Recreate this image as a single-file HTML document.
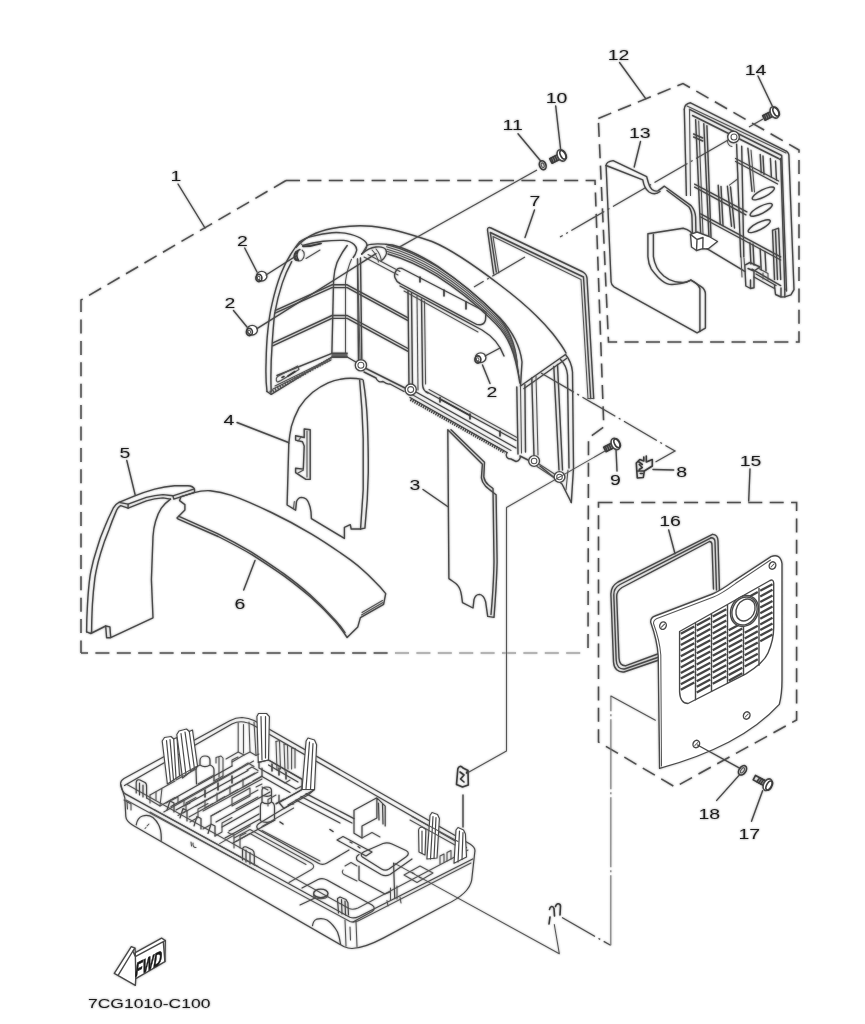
<!DOCTYPE html>
<html><head><meta charset="utf-8"><title>7CG1010-C100</title>
<style>
html,body{margin:0;padding:0;background:#fff;}
body{width:865px;height:1024px;overflow:hidden;font-family:"Liberation Sans",sans-serif;}
svg{display:block;}
.l{fill:none;stroke:#484848;stroke-width:1.4;stroke-linecap:round;stroke-linejoin:round;}
.f{fill:#fff;stroke:#484848;stroke-width:1.4;stroke-linecap:round;stroke-linejoin:round;}
.m{fill:none;stroke:#555;stroke-width:1.05;stroke-linecap:round;stroke-linejoin:round;}
.h{fill:none;stroke:#3c3c3c;stroke-width:1.6;stroke-linecap:round;stroke-linejoin:round;}
.d{fill:none;stroke:#505050;stroke-width:1.55;stroke-dasharray:14 7.4;}
.dl{fill:none;stroke:#b4b4b4;stroke-width:2;stroke-dasharray:14 7.4;}
.g{fill:none;stroke:#444;stroke-width:2.3;stroke-linecap:butt;}
.tl{fill:none;stroke:#4a4a4a;stroke-width:1.2;stroke-linecap:round;stroke-linejoin:round;}
.tm{fill:none;stroke:#555;stroke-width:1.05;stroke-linecap:round;stroke-linejoin:round;}
.tf{fill:#fff;stroke:#4a4a4a;stroke-width:1.2;stroke-linecap:round;stroke-linejoin:round;}
.th{fill:none;stroke:#444;stroke-width:1.5;stroke-linecap:round;}
.k{fill:none;stroke:#444;stroke-width:3;stroke-dasharray:1.3 1.1;}
.k2{fill:none;stroke:#555;stroke-width:3.2;stroke-dasharray:1.4 1.4;}
.c2{fill:none;stroke:#777;stroke-width:1.1;stroke-dasharray:70 3 2 3;}
.c{fill:none;stroke:#505050;stroke-width:1.2;stroke-dasharray:38 4 2 4;}
.t{font-family:"Liberation Sans",sans-serif;fill:#1c1c1c;stroke:none;}
</style></head><body>
<svg width="865" height="1024" viewBox="0 0 865 1024">
<defs><filter id="b" x="-2%" y="-2%" width="104%" height="104%"><feGaussianBlur in="SourceGraphic" stdDeviation="0.8" result="bl"/><feComponentTransfer in="bl" result="halo"><feFuncA type="linear" slope="0.55"/></feComponentTransfer><feMerge><feMergeNode in="halo"/><feMergeNode in="SourceGraphic"/></feMerge></filter></defs>
<rect width="865" height="1024" fill="#fff"/>
<g filter="url(#b)">
<path class="d" d="M286,180.5 L595,180.5 L603.8,427 L588.5,438 L588,651" />
<path class="d" d="M286,180.5 L81,300 L81,653" />
<path class="d" d="M81,653 L395,653" stroke-dashoffset="7"/>
<path class="dl" d="M395,653 L582,653" />
<path class="d" d="M598.3,118.5 L683,83.5 L799,150 L799,342 L608.5,342 Z" />
<path class="d" d="M598.5,502.5 L796.6,502.5 L796.6,720 L675,787 L598.5,742 Z" />
<text class="t" transform="translate(176,180.5) scale(1.3,1)" font-size="15" text-anchor="middle">1</text>
<text class="t" transform="translate(242.3,245.5) scale(1.3,1)" font-size="15" text-anchor="middle">2</text>
<text class="t" transform="translate(229.8,307.5) scale(1.3,1)" font-size="15" text-anchor="middle">2</text>
<text class="t" transform="translate(492,396.5) scale(1.3,1)" font-size="15" text-anchor="middle">2</text>
<text class="t" transform="translate(415,490) scale(1.3,1)" font-size="15" text-anchor="middle">3</text>
<text class="t" transform="translate(228.8,425) scale(1.3,1)" font-size="15" text-anchor="middle">4</text>
<text class="t" transform="translate(124.8,458) scale(1.3,1)" font-size="15" text-anchor="middle">5</text>
<text class="t" transform="translate(239.8,608.5) scale(1.3,1)" font-size="15" text-anchor="middle">6</text>
<text class="t" transform="translate(535,205.5) scale(1.3,1)" font-size="15" text-anchor="middle">7</text>
<text class="t" transform="translate(681.6,477) scale(1.3,1)" font-size="15" text-anchor="middle">8</text>
<text class="t" transform="translate(615.5,484.5) scale(1.3,1)" font-size="15" text-anchor="middle">9</text>
<text class="t" transform="translate(556.5,102.5) scale(1.3,1)" font-size="15" text-anchor="middle">10</text>
<text class="t" transform="translate(512.6,129.5) scale(1.3,1)" font-size="15" text-anchor="middle">11</text>
<text class="t" transform="translate(618.6,59.5) scale(1.3,1)" font-size="15" text-anchor="middle">12</text>
<text class="t" transform="translate(639.7,138) scale(1.3,1)" font-size="15" text-anchor="middle">13</text>
<text class="t" transform="translate(755.6,74.5) scale(1.3,1)" font-size="15" text-anchor="middle">14</text>
<text class="t" transform="translate(750.5,465.5) scale(1.3,1)" font-size="15" text-anchor="middle">15</text>
<text class="t" transform="translate(670,526) scale(1.3,1)" font-size="15" text-anchor="middle">16</text>
<text class="t" transform="translate(749.2,838.5) scale(1.3,1)" font-size="15" text-anchor="middle">17</text>
<text class="t" transform="translate(709.3,818.5) scale(1.3,1)" font-size="15" text-anchor="middle">18</text>
<text class="t" transform="translate(88,1008.3) scale(1.345,1)" font-size="13">7CG1010-C100</text>
<path class="l" d="M178,184L205,228"/>
<path class="l" d="M244.7,248L257,272"/>
<path class="l" d="M233.5,310.5L247,327"/>
<path class="l" d="M482.5,365L490,383.5"/>
<path class="l" d="M423,489.5L447.6,506.5"/>
<path class="l" d="M237,422.5L288.5,442.5"/>
<path class="l" d="M126.8,460.5L135.2,495"/>
<path class="l" d="M243.7,590L255,560.5"/>
<path class="l" d="M534.5,210L525,237.5"/>
<path class="l" d="M653,469.5L673.7,470"/>
<path class="l" d="M616,449L617,471"/>
<path class="l" d="M555.7,106L560.7,150"/>
<path class="l" d="M518,133.7L540.7,161"/>
<path class="l" d="M619.5,62.5L645.7,98.7"/>
<path class="l" d="M640.5,141.5L634.2,167"/>
<path class="l" d="M758,76L773,107.5"/>
<path class="l" d="M750,469L748.7,501"/>
<path class="l" d="M668.7,530L675,553.7"/>
<path class="l" d="M762.6,790.7L751.5,821.3"/>
<path class="l" d="M739,775.4L716.7,800.4"/>
<path class="l" d="M493.7,274 L487.5,230 Q487.5,226.5 491,228 L583,272 Q586.5,274 587,278 L593.7,398.5" />
<path class="l" d="M496.3,272 L490.3,232.5 L583.5,277 L590.7,398.5" />
<path class="m" d="M498.8,273 L493,236.5 L581,279.5 L588,398.5" />
<path class="m" d="M593.7,398.5 L588,398.5" />
<path class="l" d="M296,247.5 C304,238 316,231.5 331.9,228.5 C345,226 358,225 371.6,226.2 C392,228 412,234.5 432,241.5 C448,248 470,262 500,285 C520,300 540,318 553,334 C560,343 564,349 566,353" />
<path class="l" d="M366.9,245.5 C372,243 380,243.5 392.4,245 C410,249 426,259 437.5,266 C455,278 480,298 500,318 C512,331 520,345 522,362 L520.5,386" />
<path class="l" d="M520.5,386 L565.5,354.5" />
<path class="l" d="M524,388.5 L566.5,358.5" />
<path class="l" d="M565.5,354.5 C570,360 572,366 572.5,372 L573.5,468 L571.3,502.5" />
<path class="l" d="M560.5,359.5 C565,364 567,369 567.5,375 L569,468" />
<path class="l" d="M516.8,387 L518,454" />
<path class="l" d="M524.9,384.7 L525.5,452" />
<path class="m" d="M520.5,386 L521.5,453" />
<path class="l" d="M531.8,378 L534,456" />
<path class="m" d="M536,376 L538,455" />
<path class="l" d="M553.8,366.5 L559,470" />
<path class="l" d="M557.5,364.5 L562.5,470" />
<path class="l" d="M571.3,502.5 L562,484 L540,466" />
<path class="m" d="M566,490 L568,470" />
<path class="l" d="M386.0,244.4 C404,249 422,257.5 437,266.5 C455,278 478,296 496,314.5 C508,327 515,341 517.0,362.0" />
<path class="m" d="M386.48,246.8 C404,251.4 422,259.9 437,268.9 C455,280.4 478,298.4 496,316.9 C508,329.4 515,343.4 517.72,367.28" />
<path class="m" d="M386.96,249.20000000000002 C404,253.8 422,262.3 437,271.3 C455,282.8 478,300.8 496,319.3 C508,331.8 515,345.8 518.44,372.56" />
<path class="m" d="M387.44,251.6 C404,256.2 422,264.7 437,273.7 C455,285.2 478,303.2 496,321.7 C508,334.2 515,348.2 519.16,377.84" />
<path class="l" d="M387.92,254.0 C404,258.6 422,267.1 437,276.1 C455,287.6 478,305.6 496,324.1 C508,336.6 515,350.6 519.88,383.12" />
<path class="l" d="M396,271 C393,275 395,281 400,283.5 L472,322 C478,326 484,326 485.5,320 L486,312 L402,268.5 C399,267.5 397,269 396,271 Z" />
<path class="h" d="M420,277 L420,282 M444,290 L444,296 M466,302 L466,309" />
<path class="l" d="M400,286 L482,330 C492,336 500,345 504,356" />
<path class="m" d="M404,291 L478,332" />
<path class="l" d="M267,391.5 C265.5,380 265.8,370 266.1,361.7 C266.3,350 266.8,340 267.8,330.9 C268.8,321 270,312 272.1,303.6 C274.5,293 277,284 280.6,274.5 C283.5,267 287,260 290.9,254 C293.5,250 296,246 299.4,242.1 C303,239 308,237.2 313.1,236.1 C319,234.5 325,233.3 331.9,232.7 C338,232.3 345,232.8 350.7,234.4 C355,235.6 359.5,237.3 362.6,239.5 C365.5,241.5 367.3,243.5 366.9,245.5 C366.5,248.5 364.5,251.5 361.8,254" />
<path class="l" d="M271.2,391.5 C270.5,375 271,360 272.1,344.6 C272.8,334 273.5,324 274.6,313.8 C276.5,303 279,293 282.3,283.1 C285,275 288,268.5 291.7,261.7" />
<path class="l" d="M302.8,245.5 C309,243.5 316,242 323.3,241.2 C330,240.5 337,240.2 343.8,240.4 C348,240.8 352,242.5 354.1,244.6 C356,246.5 357,248.5 356.6,250.6 C356,253 354.8,255.5 353.2,257.5" />
<path class="m" d="M299.4,242.1 L302.8,245.5" />
<path class="l" d="M347.2,245.5 C343,251 339.5,257 337,262.6 C335,268 334,274 333.6,279.7 L331.9,353" />
<path class="m" d="M351.5,259.2 C348.5,266 346.5,274 345.5,281.4 L345.5,353" />
<path class="l" d="M357.5,259 L358.5,360" />
<path class="l" d="M360.5,258 L361.8,359" />
<path class="l" d="M275.5,310.4 L331.9,284.8 L347.2,284.8 L408,317.8" />
<path class="l" d="M275,313.2 L331.9,287.6 L347.2,287.6 L408,320.6" />
<path class="l" d="M272.9,342.9 L331.9,315.5 L347.2,315.5 L408,348.5" />
<path class="l" d="M272.7,345.8 L331.9,318.4 L347.2,318.4 L408,351.4" />
<path class="l" d="M267,391.5 L271.2,394.3 L331.9,357 L347.2,357 L355.8,362" />
<path class="l" d="M277,375.5 L331.9,353.3 L347.2,353.3" />
<path class="m" d="M273,389 L331,360" />
<path class="m" d="M275,386 L331,358.5" />
<path class="m" d="M277.3,382 C275.5,380 276,377 278.5,376 L297.7,366 L299,369.5 L281,380.5 C279.5,381.3 278,382 277.3,382 Z" />
<path class="h" d="M282,377.5 L284,376.5 M288,376 L295,371.5" />
<path class="l" d="M300,249.5 C297,250.5 294.5,253 294,256 C293.6,259 295.5,261 298.5,260.5" />
<path class="m" d="M302,250 C305,252 305,257 302,260 C300.5,261 299,261 298.5,260.5" />
<path class="m" d="M303,246.5 L321,243.5 M306,258.5 L320,250" />
<path class="m" d="M361.8,254 L366.9,245.5" />
<path class="l" d="M361.8,254 C366,250 371,247.5 376,247 C381,246.5 385,248 386,250 C387.5,253.5 385,258 381,261" />
<path class="m" d="M372,250 C375,253 377.5,257.5 378.5,262 M376,249 C379,252.5 381,257 381.5,261.5" />
<path class="m" d="M364,257 L398,275 M368,254.5 L400,271.5" />
<path class="m" d="M357.5,259 L360.2,363.6" />
<path class="l" d="M408,291 L409,386.5" />
<path class="l" d="M411.5,293 L412.5,388" />
<path class="m" d="M417,296 L418,390" />
<path class="l" d="M421.5,299 L422.6,385 C422.8,389 424.5,391.5 428,393" />
<path class="m" d="M424.5,301 L425.6,384" />
<path class="l" d="M366,368.5 L405,388" />
<path class="l" d="M364,372 L376,378 C377,381 380,382.5 383,381.5 C385,383 388,384.5 390,384 L404,391.5" />
<path class="l" d="M416,392 L516,448" />
<path class="m" d="M412,394.5 L511,450.5" />
<path class="l" d="M410,397.5 L507,452.5" />
<path class="l" d="M426,391.5 L516,440.5" />
<path class="m" d="M429,389.5 L517,437.5" />
<path class="h" d="M440,397.5 L440,402 M470,414 L470,419 M500,431 L500,436" />
<path class="h" d="M441,399.5 L469,415" />
<path class="l" d="M507,452.5 C505,456 507,459 511,459 L516,461.5 C519,461 521,458 520,456 L528,460" />
<circle class="f" cx="360.9" cy="365.3" r="5.6"/><circle class="m" cx="360.9" cy="365.3" r="3"/>
<circle class="f" cx="410.7" cy="389.6" r="5.6"/><circle class="m" cx="410.7" cy="389.6" r="3"/>
<circle class="f" cx="534.1" cy="461" r="5.4"/><circle class="m" cx="534.1" cy="461" r="2.8"/>
<circle class="f" cx="559.5" cy="477" r="5.4"/><circle class="m" cx="559.5" cy="477" r="2.8"/>
<path class="m" d="M539,464 L554.5,474 M537,466.5 L553,477" />
<ellipse class="f" cx="261.7" cy="276.2" rx="5.2" ry="4.8"/>
<ellipse class="h" cx="258.9" cy="278" rx="3" ry="3.6"/>
<ellipse class="m" cx="258.7" cy="278" rx="1.3" ry="1.8"/>
<ellipse class="f" cx="252.2" cy="330.2" rx="5.2" ry="4.8"/>
<ellipse class="h" cx="249.4" cy="332" rx="3" ry="3.6"/>
<ellipse class="m" cx="249.2" cy="332" rx="1.3" ry="1.8"/>
<ellipse class="f" cx="480.7" cy="357.7" rx="5.2" ry="4.8"/>
<ellipse class="h" cx="477.9" cy="359.5" rx="3" ry="3.6"/>
<ellipse class="m" cx="477.7" cy="359.5" rx="1.3" ry="1.8"/>
<path class="l" d="M266,275L296,256"/>
<path class="l" d="M257,328.7L376,253.7"/>
<path class="l" d="M485,356L500,348"/>
<path class="c" d="M537,170 L432,228.7" style="stroke-dasharray:none"/>
<path class="c" d="M432,228.7 L396,249" />
<path class="c" d="M729,139.5 L560,237" />
<path class="c" d="M525,257 L474,287" />
<path class="k" d="M410.5,399.5 L505,452.5" />
<path class="k2" d="M270,392.5 L331.5,358.5" />
<path class="l" d="M331.9,357 L347.2,357 M332,355 L347,355" />
<path class="h" d="M296,252 C294.5,254.5 294.5,258 296.5,260 M298,251 C296.5,254 296.8,258 298.5,260.5" />
<path class="h" d="M303,246.5 C309,246.5 315,245.5 321,243.5" />
<path class="l" d="M606.1,165.5 C606,163 607.5,161.5 613.1,160.6 L646.7,176.6 C648,182 649,187 652,189.5 C654.5,191.5 656,191.5 657.8,190.8 C660.5,189.5 662.5,187.5 664.4,186.2 L691.1,205.6 C694,209 695.3,213 695.6,217 L696,236" />
<path class="l" d="M606.1,165.5 L642.8,179.8 C643.5,184 645,189 649,192 C653,194.5 657,194 660,191.5" />
<path class="l" d="M667,190.5 L689,207 C691,210 692,214 692,218 L692.4,234" />
<path class="l" d="M606.1,165.5 L611.1,282 C611.3,284.5 612,285.5 614,286.8 L697.1,332.9 L705.4,328.1 L705.4,294 C705.4,291 704,288.5 701.5,286.8 L690.9,280.2 C685,283 677,284.8 669.4,284.4 C665,283.5 661.5,280.5 658.3,277.4 C655,274 653,271.5 651.3,269.1 C649,265 648.2,261 647.9,256.6 L647.9,233.7 L683.2,228.2 C686,228.8 688.5,230 690.2,231.6 L693,234.5" />
<path class="l" d="M653.4,234.4 L653.4,256.6 C654,261 655.3,264.5 656.9,267.7 C658.5,270.8 661,273.5 663.8,276 C667,278.7 670.5,280.6 674.9,281.6 C678.5,282.4 682.5,282.6 686,282.3 L690.9,280.2" />
<path class="l" d="M699.9,288.5 L699.9,331.5 M690.9,280.2 C695,282 698.5,285 699.9,288.5" />
<path class="l" d="M684.3,109.3 C684.3,106 686.5,103.5 690.5,102.8 L784.8,150.3 C787.5,151.5 788.9,153 788.9,155.5 L794,289.7 L790.9,294.8 L784.8,296.9" />
<path class="l" d="M684.3,109.3 L686.4,195.4" />
<path class="l" d="M689.5,109.3 L781.7,155.5 L786.5,291" />
<path class="m" d="M689.5,109.3 L690.5,195.4" />
<path class="l" d="M692.5,115.5 L778.6,158.5 L780.7,160" />
<path class="m" d="M687,106 L786,153" />
<path class="l" d="M695.6,119.6 L700.7,234.4" />
<path class="m" d="M698.7,121 L703,234" />
<path class="l" d="M703.8,123.7 L708.9,236.4" />
<path class="l" d="M706.9,125.7 L711,237" />
<circle class="f" cx="733.5" cy="137" r="5.8"/><circle class="m" cx="734" cy="137" r="3"/>
<path class="m" d="M727.5,140 C727,143 729,146 732,146.5" />
<path class="l" d="M693.6,134 L702.8,138 M693.6,137 L702.8,141" />
<path class="l" d="M694.6,184.2 L746.9,211.8 M694.6,187.2 L745.9,214.8" />
<path class="l" d="M700.7,213.9 L780.7,256.9 M700.7,217 L780.7,260" />
<path class="l" d="M735.6,158.5 L778.6,181 M735.6,161.5 L777.6,184" />
<path class="l" d="M736.6,144.2 L740.7,256.9" />
<path class="l" d="M741.7,146.2 L743.8,256.9" />
<path class="l" d="M747.9,148.3 L752,191.3" />
<path class="m" d="M751,150 L754.5,192" />
<path class="l" d="M760.2,154.4 L761.2,172.9 M763,156 L764,174.5" />
<path class="l" d="M770.4,158.5 L771.4,177 M775.5,161 L776.5,180" />
<path class="l" d="M718.2,185.2 L720.2,224.1 M721,186.5 L723,225.5" />
<path class="l" d="M727.4,186.2 L731.5,226.2 M730.5,187 L734.5,228" />
<path class="m" d="M729.4,185.2 L737.6,179 L737.6,172" />
<ellipse class="l" cx="763.3" cy="193.4" rx="12.3" ry="3.6" transform="rotate(-27 763.3 193.4)"/>
<ellipse class="l" cx="761.2" cy="209.8" rx="12.3" ry="3.6" transform="rotate(-27 761.2 209.8)"/>
<ellipse class="l" cx="759.2" cy="226.2" rx="12.3" ry="3.6" transform="rotate(-27 759.2 226.2)"/>
<path class="l" d="M780.7,158.5 L784.8,289.7" />
<path class="l" d="M772.5,230.3 L774.5,279.5 M772.5,230.3 L778.6,228.2 L780.7,279.5 M775.5,231 L777.5,279.5" />
<path class="f" d="M690.5,234.4 L697,232 L709,236.5 L717.5,241.5 L708,249 L702.8,248.7 L696.5,250.5 L691.5,247 Z" />
<path class="l" d="M696.5,250.5 L697,239.5 L690.5,234.4 M697,239.5 L703,237.5 L702.8,248.7" />
<path class="l" d="M744.8,265.1 L750,262.5 L760,267 L754,271 M744.8,265.1 L745.8,286 L750.5,288.5 L754,287.7 L754,271 L748,268.5 M750.5,288.5 L750.5,280" />
<path class="l" d="M774.5,285.6 L775.5,294.5 L781,297 L784.8,296.9 L784.8,289 M781,297 L781,288" />
<path class="l" d="M706.9,248.7 L744.8,271.3" />
<path class="l" d="M752,269.2 L780.7,285.6 M756,274 L776,285.5 M754,277 L774.5,288.5" />
<path class="m" d="M758,268 L768,273.5 L768,280 M763,279 L763,273" />
<path class="l" d="M749.9,242.6 L750.9,264 M753,244 L754,265" />
<path class="l" d="M760.2,249 L761.2,270 M765,251.5 L766,271" />
<path class="m" d="M741,257 L742,277 M744,258 L744.5,265" />
<g transform="translate(774.5,112.5) rotate(-27)"><path class="h" d="M-1,-2.5 L-12,-2.5 L-12,2.5 L-1,2.5"/><path class="h" d="M-3.4,-2.5 L-4.4,2.5 M-5.6,-2.5 L-6.6,2.5 M-7.8,-2.5 L-8.8,2.5 M-10,-2.5 L-11,2.5"/><ellipse class="f" style="stroke-width:1.6" cx="0" cy="0" rx="4" ry="6"/><ellipse class="h" cx="1.8" cy="0" rx="2.6" ry="4.7"/></g>
<g transform="translate(561.5,155.5) rotate(-27)"><path class="h" d="M-1,-2.5 L-12,-2.5 L-12,2.5 L-1,2.5"/><path class="h" d="M-3.4,-2.5 L-4.4,2.5 M-5.6,-2.5 L-6.6,2.5 M-7.8,-2.5 L-8.8,2.5 M-10,-2.5 L-11,2.5"/><ellipse class="f" style="stroke-width:1.6" cx="0" cy="0" rx="4" ry="6"/><ellipse class="h" cx="1.8" cy="0" rx="2.6" ry="4.7"/></g>
<g transform="translate(615.5,444) rotate(-27)"><path class="h" d="M-1,-2.5 L-12,-2.5 L-12,2.5 L-1,2.5"/><path class="h" d="M-3.4,-2.5 L-4.4,2.5 M-5.6,-2.5 L-6.6,2.5 M-7.8,-2.5 L-8.8,2.5 M-10,-2.5 L-11,2.5"/><ellipse class="f" style="stroke-width:1.6" cx="0" cy="0" rx="4" ry="6"/><ellipse class="h" cx="1.8" cy="0" rx="2.6" ry="4.7"/></g>
<ellipse class="h" cx="542.7" cy="165.2" rx="3.2" ry="4.6" transform="rotate(-20 542.7 165.2)"/>
<ellipse class="m" cx="542.7" cy="165.2" rx="1.4" ry="2.4" transform="rotate(-20 542.7 165.2)"/>
<path class="c" d="M763,119 L749,127" />
<path class="l" d="M86.6,631.9 C86.6,622 87,613 87.5,604.5 C88,595 88.8,585 90,576.3 C91.5,567 93.8,558 96.6,549.7 C99,541 101.8,533.5 104.9,526.5 C107.5,520 110.3,514 113.2,508.2 C114.8,505.5 116.5,503.5 119,502.4 L134.8,495.8 C141,493.3 148,491 154.7,489.1 C161,487.5 168,486.3 174.6,485.8 L187.9,485.8 C191,486 193.5,487 194.5,489.1 L194.5,492.4" />
<path class="l" d="M91.6,631.9 C91.6,622 92,613 92.4,604.5 C93,595 93.8,586.5 94.9,577.9 C96.3,569 98.2,561 100.7,553 C103.2,544.5 106,537 109,529.8 C111,524 113.3,518 115.7,512.4 C117,509 118.5,506.8 120.7,505.7 L128.1,508.2 L128.1,504.1 L119,502.4" />
<path class="l" d="M128.1,504.1 L146.4,497.4 C152,496 157.5,495 163,494.6 L172.9,495.8 L193.7,489.1" />
<path class="l" d="M128.1,508.2 L146.4,500.8 C152,499.2 157.5,498.3 163,497.9 L170.5,499.1" />
<path class="l" d="M172.9,495.8 L173.8,499.1 L194.5,492.4" />
<path class="l" d="M170.5,499.1 C166.5,502 163.5,505 161.3,508.2 C158.5,512.5 156.8,517 155.5,521.5 C154,526.5 153.3,531.5 153,536.4 L151.4,579.6 L153,617.8 L110.7,637.7 L106.6,637.7 L105.7,626 L109.9,626.9 L110.7,637.7" />
<path class="l" d="M86.6,631.9 L90.8,633.5 L105.7,626 M91.6,631.9 L90.8,633.5" />
<path class="l" d="M194.2,492.6 C199.5,491 205,490.5 210.2,490.7 C217.5,491.5 224.5,493 231.5,495.3 C245,500 258,506 271.4,512.5 C285,519 298,526 311.2,533.8 C325,542 338,551 351.1,560.4 C360,567 368,574.5 375,581.7 C379,585.5 382.5,589.5 385.7,593.6 L383.6,604.3 L360.4,617.6 L357.8,626.9 L347.1,637.5 C343.5,632 339.5,626.5 335.2,621.6 C327.5,613 319.5,605 311.2,597.6 C302.5,590 293.5,583 284.6,576.4 C274,569 263.5,562 252.7,555.1 C241.5,548.5 230,542.5 218.2,536.5 L178.3,519.2 L177,517.9 L184.9,509.9 L184.9,504.6 L179.6,500.6 L181,496.6 L194.2,492.6" />
<path class="l" d="M344.5,633.5 C340,627 336,622 332.2,618.3 C325,610.5 317.5,603 309.3,595.5 C301,588 292,581 282.8,574.3 C272.5,567 262,560 251,553 C240,546.5 229,540.5 217,534.5 L178.5,517.2" transform="translate(0.5,-0.9)"/>
<path class="m" d="M382.5,600.5 L362,612.5 M383,602.5 L361.5,615" />
<path class="l" d="M288.8,443.5 C289.3,437.5 290.2,432 291.4,426.4 C293.3,419.5 296,413.5 299.1,407.6 C303,401.5 307.5,396.5 312.7,392.2 C317.5,388.5 322.5,385.3 328.1,382.8 C333.5,380.5 339,379.2 345.2,378.5 C351,378 356.5,378.3 362.3,379.4" />
<path class="l" d="M288.8,443.5 L287.1,505 L295.6,510.2 L296.5,501.6 C297.5,499 299.3,497.5 301.6,497.4 C305,497.6 307.3,499.5 308.5,502.5 C309.8,505.5 310.7,508.5 311,511.9 L311.4,518.7 L344.4,538.4 L344.4,527.3 L350.3,524.7 L351.2,529 L360.6,529" />
<path class="l" d="M359.7,380.3 C361.5,400 362.7,420 363.2,438.4 L363.2,489.7 L360.6,528.5" />
<path class="l" d="M363.2,380.3 C365.5,394 366.8,408 367.4,421.3 C368,438 368.4,456 368.3,472.6 C368,491 366.8,510 364.9,528.1 L360.6,529" />
<path class="m" d="M293.5,508.8 L294.3,501.5" />
<path class="l" d="M304.2,429 L310.2,429.8 L310.2,479.4 L305.9,479.4 L295.6,472.6 L295.6,468.3 L303.3,469.1 L304.2,446.1 L302.5,441.8 L295.6,440.1 L295.6,435.8 L304.2,437.5 Z" />
<path class="m" d="M307,431 L307,477 M298,441 L301.5,436.5 M298,473 L303.5,470" />
<path class="l" d="M447.8,429.7 L448.9,578.6 C452,581 455,582.5 457.3,584.9 C460,588 461,592 461.5,595.4 L462.5,602.7 L473,608 L474,599.6 C475,596 477,594.5 479.3,594.4 C482.5,594.7 484.5,597.5 485.6,601.7 L487.7,616.4 L494,617.4 C495.5,598 496.7,580 497.1,561.8 L496.1,494.7 C492,491.5 488.5,489 485.6,486.3 C483,483.5 481.7,481 481.4,477.9 L482.4,464.3 Z" />
<path class="l" d="M451,429.7 L484.5,462.2 L483.8,477 C484.5,480.5 486,483 488.5,485 L493,488.5 L494,561.8 C493.7,580 492.5,598 491,614.5" />
<path class="m" d="M605,451 L506.5,507.5 L506.5,751 L469,772" />
<path class="c" d="M541,373 L675,451 L655.5,462" />
<path class="h" d="M645,463.5 L648.5,460 L652.5,461.5 L652.5,457.5 M655,456.5 L655,462.5 L661,460 L661,466.5 L653,471.5 L645.5,471.5 L645,463.5 M645.5,471.5 L646,478.5 L652,478 L653,471.5 M648,465 L651,468 L648,470 M649,474 L651,474 M647,462 L651,465" transform="translate(-8.7,-0.5)"/>
<path class="h" d="M457.8,769 C458.5,766 461,765.5 463,768 L468,770.5 L468.3,785 L462.5,787 L456.5,784.5 L457.8,769 M460,772 L464,775 L460.5,779 L464,782 M468,770.5 L466.5,773" />
<path class="l" d="M463,795 L463,827" />
<path class="h" d="M549.5,909.5 C550,906 553,905.5 554,908.5 L554.5,916 M555.5,906.5 C556.5,903 560,903 560.5,906 L560,915 M550,917 L549,924" />
<path class="m" d="M394.7,863.4 L559.3,953.7 L554.3,924.5" />
<path class="c" d="M562,917.6 L610.6,945.3" />
<path class="c2" d="M610.8,945.3 L610.9,696" />
<path class="m" d="M610.9,696 L655.4,720.3" />
<path class="l" d="M712.5,534.4 C716,534.3 718,537 718,541 L719.5,591.5" />
<path class="l" d="M712.5,534.4 L618,582 C613,585 610.9,588 610.9,594 L613.5,662 C614,669 618,672.5 624,672 L659,660" />
<path class="l" d="M711,537.8 L620,584.5 C615.5,587 613.7,590 613.8,595 L616.2,660 C616.5,666.5 619.5,669.5 624.5,669 L659,657" />
<path class="l" d="M709.5,541.5 L622,587.5 C618,590 616.5,593 616.7,597 L619,658 C619.3,663.5 621.5,666 626,665.7 L659,653.5" />
<path class="l" d="M711,537.8 C713.5,537.8 715,539.5 715,542 L716.5,590 M709.5,541.5 C711,541.5 712,543 712,545 L713.5,589" />
<path class="f" d="M650.7,622.3 C650.5,619 652,617 655,616 L712.5,594 C720,591 727,586 734.8,580.3 L771,556.7 C777,554 781,557 782,563.6 L782,680 C782,690 781,698 779.3,704.4 C765,720 748,732 729,742 C706,754 683,762 659.6,768.4 L658.2,655.7 C657.5,644 654.5,633 650.7,622.3" />
<path class="m" d="M653.5,623.5 C653.5,621 654.5,619.5 657,618.5 L713.5,597 C721,594 728,589 735.8,583.3 L770.5,560" />
<path class="m" d="M661.5,766 L660.8,655 C660,644 657,633 653.5,623.5" />
<ellipse class="l" cx="663" cy="625.6" rx="3.2" ry="3.8" transform="rotate(25 663 625.6)"/>
<path class="m" d="M661.5,627.1 L664.5,624.1"/>
<ellipse class="l" cx="746.7" cy="715.5" rx="3.2" ry="3.8" transform="rotate(25 746.7 715.5)"/>
<path class="m" d="M745.2,717.0 L748.2,714.0"/>
<ellipse class="l" cx="696.3" cy="744" rx="3.2" ry="3.8" transform="rotate(25 696.3 744)"/>
<path class="m" d="M694.8,745.5 L697.8,742.5"/>
<ellipse class="l" cx="772.5" cy="565.5" rx="3.2" ry="3.8" transform="rotate(25 772.5 565.5)"/>
<path class="m" d="M771.0,567.0 L774.0,564.0"/>
<path class="l" d="M679.6,631.5 L679.6,692 C680,699 683,703.5 688,703.5 L745.9,673.8 C757,667 765,660 768,653 C771.5,645 773.7,636 773.7,627.8 L773.7,583 C773.5,580 772,579.5 770,580.5 Z" />
<path class="g" d="M680.8,633.8 L694.3,626.5"/>
<path class="g" d="M680.8,639.4 L694.3,632.1"/>
<path class="g" d="M680.8,645.0 L694.3,637.7"/>
<path class="g" d="M680.8,650.6 L694.3,643.3"/>
<path class="g" d="M680.8,656.2 L694.3,648.9"/>
<path class="g" d="M680.8,661.8 L694.3,654.5"/>
<path class="g" d="M680.8,667.4 L694.3,660.1"/>
<path class="g" d="M680.8,673.0 L694.3,665.7"/>
<path class="g" d="M680.8,678.6 L694.3,671.3"/>
<path class="g" d="M680.8,684.2 L694.3,676.9"/>
<path class="g" d="M680.8,689.8 L694.3,682.5"/>
<path class="g" d="M696.7,625.2 L710.3,617.9"/>
<path class="g" d="M696.7,630.8 L710.3,623.5"/>
<path class="g" d="M696.7,636.4 L710.3,629.1"/>
<path class="g" d="M696.7,642.0 L710.3,634.7"/>
<path class="g" d="M696.7,647.6 L710.3,640.3"/>
<path class="g" d="M696.7,653.2 L710.3,645.9"/>
<path class="g" d="M696.7,658.8 L710.3,651.5"/>
<path class="g" d="M696.7,664.4 L710.3,657.1"/>
<path class="g" d="M696.7,670.0 L710.3,662.7"/>
<path class="g" d="M696.7,675.6 L710.3,668.3"/>
<path class="g" d="M696.7,681.2 L710.3,673.9"/>
<path class="g" d="M696.7,686.8 L710.3,679.5"/>
<path class="g" d="M696.7,692.4 L710.3,685.1"/>
<path class="g" d="M712.7,616.6 L726.3,609.2"/>
<path class="g" d="M712.7,622.2 L726.3,614.8"/>
<path class="g" d="M712.7,627.8 L726.3,620.4"/>
<path class="g" d="M712.7,633.4 L726.3,626.0"/>
<path class="g" d="M712.7,639.0 L726.3,631.6"/>
<path class="g" d="M712.7,644.6 L726.3,637.2"/>
<path class="g" d="M712.7,650.2 L726.3,642.8"/>
<path class="g" d="M712.7,655.8 L726.3,648.4"/>
<path class="g" d="M712.7,661.4 L726.3,654.0"/>
<path class="g" d="M712.7,667.0 L726.3,659.6"/>
<path class="g" d="M712.7,672.6 L726.3,665.2"/>
<path class="g" d="M712.7,678.2 L726.3,670.8"/>
<path class="g" d="M712.7,683.8 L726.3,676.4"/>
<path class="g" d="M728.7,630.3 L742.3,622.9"/>
<path class="g" d="M728.7,635.9 L742.3,628.5"/>
<path class="g" d="M728.7,641.5 L742.3,634.1"/>
<path class="g" d="M728.7,647.1 L742.3,639.7"/>
<path class="g" d="M728.7,652.7 L742.3,645.3"/>
<path class="g" d="M728.7,658.3 L742.3,650.9"/>
<path class="g" d="M728.7,663.9 L742.3,656.5"/>
<path class="g" d="M728.7,669.5 L742.3,662.1"/>
<path class="g" d="M728.7,675.1 L742.3,667.7"/>
<path class="g" d="M728.7,680.7 L742.3,673.3"/>
<path class="g" d="M744.7,599.2 L757.8,592.1"/>
<path class="g" d="M744.7,632.8 L757.8,625.7"/>
<path class="g" d="M744.7,638.4 L757.8,631.3"/>
<path class="g" d="M744.7,644.0 L757.8,636.9"/>
<path class="g" d="M744.7,649.6 L757.8,642.5"/>
<path class="g" d="M744.7,655.2 L757.8,648.1"/>
<path class="g" d="M744.7,660.8 L757.8,653.7"/>
<path class="g" d="M744.7,666.4 L757.8,659.3"/>
<path class="g" d="M760.2,590.8 L772.5,584.2"/>
<path class="g" d="M760.2,596.4 L772.5,589.8"/>
<path class="g" d="M760.2,602.0 L772.5,595.4"/>
<path class="g" d="M760.2,607.6 L772.5,601.0"/>
<path class="g" d="M760.2,613.2 L772.5,606.6"/>
<path class="g" d="M760.2,618.8 L772.5,612.2"/>
<path class="g" d="M760.2,624.4 L772.5,617.8"/>
<path class="g" d="M760.2,630.0 L772.5,623.4"/>
<path class="g" d="M760.2,635.6 L772.5,629.0"/>
<path class="g" d="M760.2,641.2 L772.5,634.6"/>
<path class="l" d="M695.5,622.9 L695.5,699.7"/>
<path class="l" d="M711.5,614.2 L711.5,691.4"/>
<path class="l" d="M727.5,605.5 L727.5,683.2"/>
<path class="l" d="M743.5,596.9 L743.5,675.0"/>
<path class="l" d="M759,588.5 L759,665.2"/>
<ellipse class="f" cx="744.5" cy="611" rx="13.5" ry="16" transform="rotate(28 744.5 611)"/>
<ellipse class="l" cx="744.5" cy="611" rx="12" ry="14.5" transform="rotate(28 744.5 611)"/>
<ellipse class="l" cx="745.5" cy="610" rx="9" ry="11.5" transform="rotate(28 745.5 610)"/>
<path class="l" d="M697.5,745 L740,768.3" />
<ellipse class="h" cx="742.5" cy="770.3" rx="3.4" ry="5.2" transform="rotate(35 742.5 770.3)"/>
<ellipse class="m" cx="742.5" cy="770.3" rx="1.5" ry="3" transform="rotate(35 742.5 770.3)"/>
<g transform="translate(767.6,784.7) rotate(28)"><path class="h" d="M-1,-2.5 L-15,-2.5 L-15,2.5 L-1,2.5"/><path class="h" d="M-3.4,-2.5 L-4.4,2.5 M-5.6,-2.5 L-6.6,2.5 M-7.8,-2.5 L-8.8,2.5 M-10,-2.5 L-11,2.5"/><ellipse class="f" style="stroke-width:1.6" cx="0" cy="0" rx="4" ry="6.2"/><ellipse class="h" cx="1.8" cy="0" rx="2.6" ry="4.9"/></g>
<path class="tl" d="M120.6,784 C120.3,781.5 121.5,780 124,778.5 L229.8,720.8 C234,718.5 238,717.5 242,717.5 C246,717.7 250,718.5 254,720.5 L470,844 C474,846.5 475.5,849 474.8,852 L471.7,880 C470,890 460,898 445.7,904.8 L383.2,938.1 C372,944 362,948 352,948.5 C348.5,948.5 346,947.5 343.7,946.5 L134.1,826 C128,822.5 126,819.5 125.8,816.5 L124.8,797.8 L120.6,784" />
<path class="tl" d="M124.5,785.5 L231.9,724 C236,722 240,721.3 244,722 C247,722.5 250,723.5 253,725 L466.5,847.5" />
<path class="tl" d="M120.6,784 C121,788 122.5,791.5 124.8,793.6 L349.9,917.3 C353,918.5 356,918 359,916.5 L472.7,859" />
<path class="tm" d="M127,784.5 L349,908.5 C352,909.7 355,909.3 358,908 L468,850" />
<path class="tm" d="M126,800 L350,921.5 C353,922.5 356,922 359,920.5 L471,863" />
<path class="tl" d="M136.2,824.8 C137,820 139.5,817 142.5,816 C146,815 150,815.5 152.9,817.5 C157,821 159.5,825.5 160.5,830 C161.2,833.5 161.4,837 161.2,840.5" />
<path class="tm" d="M147,826 L149,824 M145,828.5 L146,827.5" />
<path class="tl" d="M312.5,925.7 C313,922 314.5,920 316.6,919.2 C320,918.2 324,918.5 327,920 C331.5,923 335,927.5 337.5,932 C339,936 340,940.5 340.6,944.5" />
<path class="tm" d="M345,920 L346,946 M356,921.5 L357,946.5 M350,927 L350.5,940" />
<path class="tf" d="M162.2,741 L164.5,737.5 L171,736.5 L173.7,739 L177,737.5 L179.5,776 L167.4,784 Z" />
<path class="tl" d="M166.5,740.5 L170.5,782 M170,739.5 L173.5,780 M173.7,739 L176,778" />
<path class="tf" d="M176.8,734.5 L179,731 L186.5,729 L189.3,731.5 L192.5,730 L197.5,766 L182.5,778 Z" />
<path class="tl" d="M181,733.5 L186,775 M185,732 L190.5,771 M189.3,731.5 L194.5,769" />
<path class="tf" d="M256.9,716.5 L258.5,713.5 L266.5,713.5 L269.4,716.6 L268.5,760 L258.3,762.4 Z" />
<path class="tl" d="M261,716.5 L262,760 M265.5,716.5 L265.5,758" />
<path class="tm" d="M238.2,723 L238.2,752 L244,755 L250,752 M243.5,724.5 L243.5,753 M249,722 L250,752 M254,722 L256,755" />
<path class="tm" d="M276,741.6 L277,770 M279.5,740.5 L280.5,769 M284,744 L285,771 M287.5,745 L288,769 M291.6,747.9 L291.6,769 M295,748.5 L295,768" />
<path class="tm" d="M276,741.6 L279.5,740.5 M284,744 L287.5,745 M291.6,747.9 L295,748.5" />
<path class="tf" d="M306.1,741 L308,738 L314.5,740 L316.6,744.7 L314.5,789.5 L302,789.5 Z" />
<path class="tl" d="M309.5,742 L306,789 M313,743.5 L310.5,789" />
<path class="tl" d="M136.2,782.5 C136.5,780 138,779.3 140,780 L145,782.5 C146.3,783.3 146.8,784.5 146.6,787.4 L146.6,798 M136.2,782.5 L136.2,793 M139.5,783 L139.5,795 M143,785 L143,797" />
<path class="tl" d="M242.5,849.5 C243,847 244.5,846.3 246.5,847 L252.5,850 C253.8,850.8 254.3,852 254.3,854.5 L254.3,865 M242.5,849.5 L242.5,860 M246,850 L246,862 M250,852.5 L250,864" />
<path class="tl" d="M337.5,898.6 L340,897 L346,899.5 L347.9,902.8 L348.5,915 M337.5,898.6 L338.5,913 M341.5,899.5 L342,914 M345,901 L345.5,915" />
<path class="tm" d="M124,800 L131,804 L131,810 M127,802 L127.5,809" />
<path class="tm" d="M193,843 C192.5,846 194,848 196,847.5 M191,842 L191.5,846" />
<path class="tl" d="M200,760.5 C200,757.5 202.5,756 205,756 C208,756 210,757.5 210,760.5 L210,765 C213,766 214,768 214,770 L214,781 M200,760.5 L200,765 C197,766 196,768 196,770 L196.5,784 M200,765 C203,767 207,767 210,765" />
<path class="tm" d="M216,763 L216,757.5 L221,756 L223,758 L223,776 M219,757.5 L219,777" />
<path class="tl" d="M262,790.5 C262,788 264,787 266.6,787 C269.5,787 271.5,788 271.5,790.5 L271.5,802 C274,803 274.5,805 274.5,807 L274.5,820 C271,823 264,823 260.4,820.7 L260.4,806 C260.4,804.5 261,803 262,802 Z M262,802 C265,804 269,804 271.5,802 M262,795 C265,796.5 269,796.5 271.5,795" />
<path class="tm" d="M150,795 L175,781 M146.6,798 L160,806 M160,806 L162,788" />
<path class="tl" d="M166,803 L232,766 M171,806.5 L240,768 M176,810 L248,770.5" />
<path class="tm" d="M183,813 L255,773 M189,817 L262,776.5" />
<path class="tl" d="M167,810 L170,801 L174,803 L174,812 M180,818 L183,808.5 L187,810.5 L187,821 M194,826 L197,816.5 L201,818.5 L201,829 M208,833.5 L211,824 L215,826 L215,836" />
<path class="tm" d="M196,806 L258,772 M203,811 L262,779 M211,816 L258,790" />
<path class="tm" d="M172,800 L178,797 L178,803 L184,800 L184,806 L190,803" />
<path class="th" d="M205,790 L205,797 M218,783 L218,790 M232,776 L232,783" />
<path class="tl" d="M216,822 L270,792 M222,827 L259,806 M229,831 L259,814" />
<path class="tm" d="M150,812 L255,870 M154,809.5 L258,866.5" />
<path class="tl" d="M225,838 L260,819 M233,843 L275,820" />
<path class="tm" d="M240,848 L240,836 L246,833" />
<path class="tm" d="M163.8,812 L253.6,761 M160,806 L175,797.5 M178,815.5 L186,811 L186,803 L196,797.5 M190,822 L198,817.5 L198,809 L208,803.5" />
<path class="tm" d="M203,829 L211,824.5 L211,816 L221,810.5 M215,836 L222,832 L222,823 L232,817.5" />
<path class="tm" d="M205,800 L205,808 L213,803.5 M217,793 L217,801 L225,796.5 M230,786 L230,794 L238,789.5 M243,779 L243,787 L250,783" />
<path class="tm" d="M232,798 L250,788 L250,796 L232,806 Z M236,809 L258,797" />
<path class="tm" d="M219.6,843.6 L250.3,825.8 M234,836 L234,848 M228,832.5 C230,834 232,834.5 234,834" />
<path class="tm" d="M253,781 L262,776 M256,787 L262,784 M247,770 L252,767 L258,770.5" />
<path class="th" d="M272,764 L272,771 M279,768 L279,775 M286,772 L286,779" />
<path class="tm" d="M268,790 L262,787 M276,795 L268,799.5 L268,806 M284,799 L276,803.5" />
<path class="tl" d="M258.3,762.4 L268.5,760 L302,779 L302,789.5 M268.5,765 L298,782 M262,768 L262,776.5" />
<path class="tl" d="M302,789.5 L279,802.5 L279,795 M314.5,789.5 L288,805 M279,802.5 L284,808.5" />
<path class="tm" d="M238.2,752 L226,759 M244,755 L232,762 M250,752 L256,755.5 L259,754" />
<path class="tm" d="M176,780 L196,769 M179.5,776 L196.5,766.5" />
<path class="tm" d="M150,795 L150,803 M156,792 L156,800" />
<path class="tm" d="M198,784 L214,775 M214,781 L223,776" />
<path class="tl" d="M259,762.4 L259,768 L285,783 M268.5,760 L302,779.5 M262,776.5 L290,792.5 M268,773 L296,789" />
<path class="tm" d="M285,783 L290,780 M296,789 L302,786" />
<path class="tl" d="M302,789.5 L296,793 L276,804 M314.5,789.5 L308,795 L284,808.5" />
<path class="tm" d="M240,768 L248,763 L254,766.5 M232,766 L232,760 L238,757" />
<path class="tl" d="M306.1,793.6 L354,818.6 M301,796.5 L352,823 M296,800 L340,823" />
<path class="tl" d="M293.7,804 C291,804 289,805 287,806.5 L259,823.5 C256,825.5 256,828 259,830 L318,863 C321,864.7 324,864.7 327,863 L349,850" />
<path class="tm" d="M293.7,808 L262,826.5 M262,830.5 L320,861" />
<path class="th" d="M330,829.5 L333,831.5 M280,822 L283,824" />
<path class="tl" d="M354,810.3 L376.9,797.8 L385.2,806.1 L385.2,826 M354,810.3 L354,833.2 L362,838 M376.9,797.8 L376.9,818 L362,826 L362,838 M378.5,803 L379,820 M382.5,804 L383,824" />
<path class="tl" d="M337,840 L343,836.5 L372,852 L366,856 Z M350,842 L352,843 M358,846.5 L360,848" />
<path class="tm" d="M362,838 L372,832.5 L380,837" />
<path class="tl" d="M362.4,857 C360.5,855.5 361,853.5 363.5,852 L383,843.5 C386,842.5 389,842.7 392,844 L406,850.5 C409,852 409,854.5 406.5,856.5 L389,869 C386.5,870.5 384,870.5 381.5,869 Z" />
<path class="tl" d="M358,861 C355.5,859 356,856 359,854.5 M358,861 L381,874.5 C384,876 387,876 390,874.5 L412,859 M359,866 L359,880 L385,894 L390,892" />
<path class="tm" d="M345,866 L351,862.5 L357,866 M343,870 C341.5,872 342.5,874 345,875 L357,881" />
<path class="tl" d="M393.6,863.2 L394.7,898.6" />
<path class="tm" d="M390.5,888 L390.5,900 M397,886 L397,899 M387,900.5 L388,906 M400,897 L401,903" />
<path class="tm" d="M404,875 L420,866 L433,873 L417,882.5 Z M412,872.5 L414,873.5 M419,877 L421,878" />
<ellipse class="l" cx="320.8" cy="893.4" rx="7.2" ry="4.3"/>
<path class="tm" d="M313.6,893.4 L313.6,896 C315,899.5 326,899.5 328,896" />
<path class="tl" d="M300,905 L315,898 M302,888 L318,879.5 C321,878 324,878.3 327,880 L372,905 C375,907 375,909.5 372,911.5 L353,922" />
<path class="tm" d="M234,838 L250,829.5 L311,863 C314.5,865 314.5,867.5 311.5,869.5 L289,882.5 M236,841.5 L250,833.5 L306,864.5" />
<path class="tf" d="M430,815.5 L432,812.5 L437.5,814.5 L439.4,818.5 L437,858 L426.9,859 Z" />
<path class="tl" d="M433,816.5 L430.5,859 M436,817.5 L434,858.5" />
<path class="tf" d="M418.6,830 C419,827.5 421,826.5 423,827.5 L425.9,829.5 L425,855 L419,852 Z" />
<path class="tl" d="M422,831 L422,853.5" />
<path class="tf" d="M456,830 L458,827.5 L463.5,830 L465.4,834 L466.5,857 L454,863.2 Z" />
<path class="tl" d="M459.5,831 L458,862 M463,832.5 L462,859.5" />
<path class="tm" d="M440,864 L440,856 L444,854 L444,862 M447,861 L447,852.5 L451,850.5 L451,859" />
<path class="tm" d="M410,820 L455,845 M412,816.5 L458,841.5" />
<path class="f" d="M114.3,973.3 L131.3,946.6 L134.9,948.2 L135.3,952.7 L161.6,938.1 L165.3,940.5 L164.9,961.6 L135.8,978.6 L135.3,985.4 Z" />
<path class="l" d="M118.4,974.9 L132.9,951 L134.9,948.2 M132.9,951 L135.3,956.7 L163.3,941.7 M135.3,952.7 L135.8,978.6 M163.3,941.7 L164.9,961.6 M163.3,941.7 L165.3,940.5" />
<text transform="matrix(0.57,-0.285,-0.14,1,134.6,977.2)" font-family="Liberation Sans, sans-serif" font-weight="bold" font-size="20.5" fill="#1a1a1a" stroke="#1a1a1a" stroke-width="0.7">FWD</text>
</g>
</svg>
</body></html>
